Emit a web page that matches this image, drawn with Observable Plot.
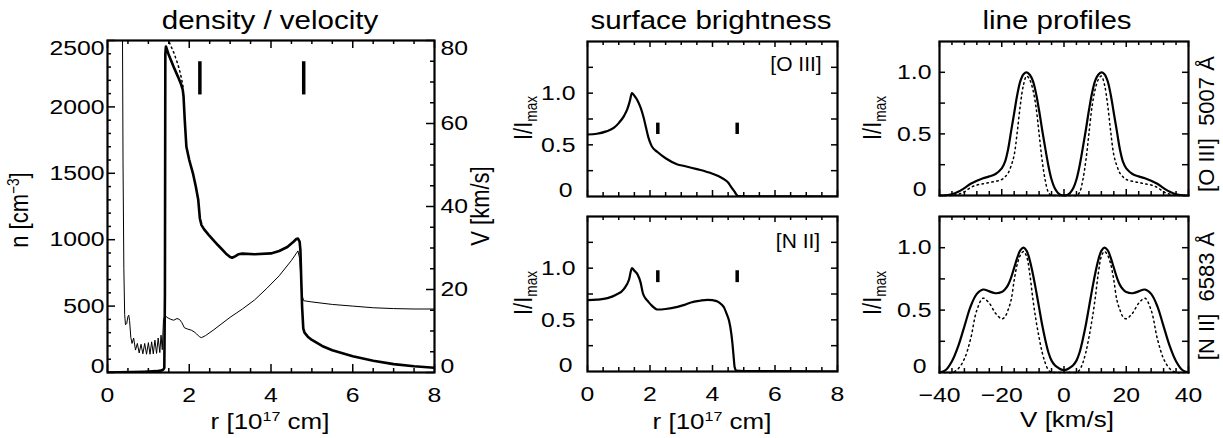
<!DOCTYPE html>
<html><head><meta charset="utf-8">
<script src="https://cdn.jsdelivr.net/npm/d3@7"></script>
<script src="https://cdn.jsdelivr.net/npm/@observablehq/plot@0.6"></script>
<style>
html,body{margin:0;padding:0;background:#fff;}
#chart{position:relative;width:1223px;height:438px;background:#fff;overflow:hidden;
  font-family:"Liberation Sans",Arial,Helvetica,sans-serif;color:#000;}
#chart svg{position:absolute;left:0;top:0;background:transparent !important;}
.lbl{position:absolute;white-space:pre;line-height:1;transform-origin:50% 50%;}
.lbl sup{font-size:0.62em;line-height:0;vertical-align:0.6em;}
.lbl sub{font-size:0.62em;line-height:0;vertical-align:-0.3em;}
</style></head><body><div id="chart"></div>
<script>
// ===================== DATA =====================
// --- density / velocity panel ---
const densR = [0, 0.3, 0.6, 0.9, 1.2, 1.3, 1.36, 1.39, 1.405, 1.415, 1.43, 1.5, 1.62, 1.72, 1.8, 1.84, 1.86, 1.89, 1.93, 2.0, 2.09, 2.16, 2.22, 2.26, 2.3, 2.36, 2.48, 2.7, 2.9, 3.0, 3.05, 3.12, 3.2, 3.3, 3.6, 4.0, 4.2, 4.4, 4.55, 4.62, 4.66, 4.7, 4.72, 4.74, 4.76, 4.79, 4.82, 4.9, 5.0, 5.25, 5.5, 6.0, 6.5, 7.0, 7.5, 8.0];
const densN = [0, 2, 4, 6, 10, 14, 20, 35, 600, 2400, 2455, 2390, 2300, 2230, 2170, 2130, 2080, 1900, 1700, 1600, 1500, 1400, 1300, 1160, 1110, 1080, 1035, 960, 895, 870, 864, 875, 890, 895, 890, 897, 915, 945, 985, 1005, 1008, 985, 920, 700, 500, 330, 300, 270, 245, 200, 168, 122, 88, 63, 47, 35];
const densDotR = [1.47, 1.52, 1.62, 1.7, 1.76, 1.81, 1.85];
const densDotN = [2520, 2480, 2410, 2340, 2280, 2215, 2150];
const velR = [0.365, 0.38, 0.40, 0.42, 0.44, 0.47, 0.50, 0.52, 0.54, 0.57, 0.60, 0.64, 0.685, 0.73, 0.775, 0.82, 0.865, 0.91, 0.955, 1.00, 1.04, 1.08, 1.12, 1.16, 1.20, 1.24, 1.28, 1.31, 1.34, 1.37, 1.41, 1.45, 1.55, 1.62, 1.70, 1.76, 1.82, 1.88, 1.95, 2.05, 2.12, 2.18, 2.25, 2.30, 2.40, 2.60, 2.80, 3.00, 3.15, 3.30, 3.60, 3.90, 4.20, 4.50, 4.66, 4.70, 4.73, 4.76, 4.80, 5.00, 5.50, 6.00, 6.50, 7.00, 7.50, 8.00];
const velV = [86, 50, 25, 14, 11.5, 11.8, 13.5, 13.8, 12.5, 8.5, 7.0, 8.3, 5.4, 7.0, 4.7, 6.8, 4.5, 7.0, 4.4, 7.2, 4.4, 7.4, 4.5, 7.8, 4.6, 8.3, 4.8, 9.0, 5.5, 12.8, 13.8, 13.3, 12.8, 12.6, 13.0, 12.8, 12.0, 10.8, 10.5, 10.2, 9.8, 9.3, 8.6, 8.4, 8.9, 10.3, 11.8, 13.3, 14.3, 15.3, 17.5, 20.3, 23.3, 27.0, 29.3, 27.5, 23, 18.5, 17.3, 17.0, 16.4, 16.0, 15.6, 15.4, 15.3, 15.3];
const frontR = [2.26, 4.80];          // ionisation-front markers
const frontNRange = [2090, 2340];

// --- surface brightness ---
const sbR_O3 = [0, 0.3, 0.6, 0.85, 1.0, 1.17, 1.28, 1.36, 1.42, 1.5, 1.6, 1.7, 1.8, 1.87, 1.95, 2.05, 2.24, 2.5, 2.88, 3.1, 3.5, 4.0, 4.2, 4.4, 4.5, 4.6, 4.7, 4.76, 4.82, 5.5, 8.0];
const sbI_O3 = [0.600, 0.607, 0.63, 0.666, 0.71, 0.78, 0.85, 0.93, 1.0, 0.975, 0.93, 0.86, 0.76, 0.67, 0.57, 0.49, 0.43, 0.37, 0.31, 0.295, 0.265, 0.22, 0.195, 0.16, 0.135, 0.09, 0.05, 0.02, 0.005, 0.002, 0.0];
const sbR_N2 = [0, 0.3, 0.64, 0.9, 1.17, 1.33, 1.42, 1.5, 1.6, 1.7, 1.77, 1.85, 1.92, 2.05, 2.24, 2.5, 2.88, 3.1, 3.31, 3.6, 3.84, 4.0, 4.16, 4.3, 4.37, 4.45, 4.53, 4.6, 4.64, 4.68, 4.71, 4.76, 5.0, 8.0];
const sbI_N2 = [0.69, 0.695, 0.71, 0.74, 0.80, 0.89, 1.0, 0.975, 0.94, 0.86, 0.76, 0.71, 0.685, 0.64, 0.60, 0.605, 0.626, 0.645, 0.668, 0.685, 0.694, 0.69, 0.678, 0.645, 0.62, 0.56, 0.49, 0.37, 0.265, 0.13, 0.04, 0.01, 0.005, 0.0];
const sbMarkR = [2.25, 4.79];
const sbMarkO3 = [0.60, 0.71];
const sbMarkN2 = [0.86, 0.975];

// --- line profiles ---
const lpVel = [-40, -38, -36, -34, -32, -30, -28, -26, -24, -22, -20, -19, -18, -17, -16, -15, -14, -13, -12, -11, -10, -9, -8, -7, -6, -5, -4, -3, -2, -1, 0, 1, 2, 3, 4, 5, 6, 7, 8, 9, 10, 11, 12, 13, 14, 15, 16, 17, 18, 19, 20, 22, 24, 26, 28, 30, 32, 34, 36, 38, 40];
const lpO3Solid = [0, 0.002, 0.01, 0.03, 0.06, 0.095, 0.12, 0.14, 0.155, 0.175, 0.22, 0.27, 0.37, 0.52, 0.67, 0.82, 0.93, 0.985, 1.0, 0.98, 0.93, 0.83, 0.69, 0.53, 0.38, 0.24, 0.13, 0.06, 0.022, 0.004, 0, 0.004, 0.022, 0.06, 0.13, 0.24, 0.38, 0.53, 0.69, 0.83, 0.93, 0.98, 1.0, 0.985, 0.93, 0.82, 0.67, 0.52, 0.37, 0.27, 0.22, 0.175, 0.155, 0.14, 0.12, 0.095, 0.06, 0.03, 0.01, 0.002, 0];
const lpO3Dot = [0, 0, 0, 0.01, 0.03, 0.065, 0.085, 0.095, 0.105, 0.115, 0.13, 0.15, 0.18, 0.24, 0.33, 0.52, 0.74, 0.90, 0.97, 0.94, 0.86, 0.72, 0.50, 0.28, 0.12, 0.025, 0, 0, 0, 0, 0, 0, 0, 0, 0, 0.025, 0.12, 0.28, 0.50, 0.72, 0.86, 0.94, 0.97, 0.90, 0.74, 0.52, 0.33, 0.24, 0.18, 0.15, 0.13, 0.115, 0.105, 0.095, 0.085, 0.065, 0.03, 0.01, 0, 0, 0];
const lpN2Solid = [0, 0.02, 0.09, 0.21, 0.37, 0.53, 0.63, 0.665, 0.65, 0.635, 0.645, 0.665, 0.70, 0.76, 0.84, 0.92, 0.98, 1.0, 0.975, 0.90, 0.79, 0.66, 0.52, 0.38, 0.26, 0.16, 0.095, 0.06, 0.04, 0.025, 0.02, 0.025, 0.04, 0.06, 0.095, 0.16, 0.26, 0.38, 0.52, 0.66, 0.79, 0.90, 0.975, 1.0, 0.98, 0.92, 0.84, 0.76, 0.70, 0.665, 0.645, 0.635, 0.65, 0.665, 0.63, 0.53, 0.37, 0.21, 0.09, 0.02, 0];
const lpN2Dot = [0, 0, 0, 0.03, 0.11, 0.27, 0.50, 0.595, 0.555, 0.475, 0.43, 0.445, 0.50, 0.58, 0.74, 0.87, 0.94, 0.97, 0.93, 0.79, 0.59, 0.42, 0.28, 0.16, 0.075, 0.02, 0, 0, 0, 0, 0, 0, 0, 0, 0, 0.02, 0.075, 0.16, 0.28, 0.42, 0.59, 0.79, 0.93, 0.97, 0.94, 0.87, 0.74, 0.58, 0.50, 0.445, 0.43, 0.475, 0.555, 0.595, 0.50, 0.27, 0.11, 0.03, 0, 0, 0];

// --- tick values ---
const rMajor = [0, 2, 4, 6, 8];
const rMinor = [0.5, 1, 1.5, 2.5, 3, 3.5, 4.5, 5, 5.5, 6.5, 7, 7.5];
const nMajor = [0, 500, 1000, 1500, 2000, 2500];
const nMinor = [100, 200, 300, 400, 600, 700, 800, 900, 1100, 1200, 1300, 1400, 1600, 1700, 1800, 1900, 2100, 2200, 2300, 2400];
const vMajor = [0, 20, 40, 60, 80];
const vMinor = [5, 10, 15, 25, 30, 35, 45, 50, 55, 65, 70, 75];
const sbYTicks = [0.25, 0.5, 0.75, 1.0, 1.25];
const lpYTicks = [0.25, 0.5, 0.75, 1.0];
const velMajor = [-40, -20, 0, 20, 40];
const velMinor = [-36, -32, -28, -24, -16, -12, -8, -4, 4, 8, 12, 16, 24, 28, 32, 36];
const yLabelsMid = [0.5, 1.0];

// ===================== DRAWING =====================
const W = 1223, H = 438;
const FONT = '"Liberation Sans", Arial, Helvetica, sans-serif';
const SX = 1.18; // horizontal glyph stretch of the original figure
const chart = document.getElementById("chart");
const zip = (xs, ys, kx, ky) => xs.map((x, i) => ({[kx]: x, [ky]: ys[i]}));
const fmtInt = d => String(d);
const fmtMid = d => d === 0 ? "0" : d.toFixed(1);
const fmtVel = d => d < 0 ? "\u2212" + (-d) : String(d);

function panel([x0, x1, y0, y1], xDomain, yDomain, marks) {
  const svg = Plot.plot({
    width: W, height: H,
    marginLeft: x0, marginRight: W - x1, marginTop: y0, marginBottom: H - y1,
    x: {domain: xDomain, label: null}, y: {domain: yDomain, label: null},
    style: {background: "transparent", fontFamily: FONT, fontSize: "21px", color: "black"},
    marks
  });
  svg.querySelectorAll('g[aria-label$="tick label"] text').forEach(t => {
    t.setAttribute("transform", (t.getAttribute("transform") || "") + ` scale(${SX},1)`);
  });
  chart.appendChild(svg);
  return svg;
}
function xTicks(vals, len, fh, sw = 1.5) {
  return [
    Plot.tickX(vals, {x: d => d, insetTop: fh - len, strokeWidth: sw}),
    Plot.tickX(vals, {x: d => d, insetBottom: fh - len, strokeWidth: sw})
  ];
}
function yTicks(vals, len, fw, side, sw = 1.5) {
  return side === "left"
    ? Plot.tickY(vals, {y: d => d, insetRight: fw - len, strokeWidth: sw})
    : Plot.tickY(vals, {y: d => d, insetLeft: fw - len, strokeWidth: sw});
}
const ax = (vals, o) => (o.anchor === "left" || o.anchor === "right")
  ? Plot.axisY(vals, {tickSize: 0, label: null, ...o})
  : Plot.axisX(vals, {tickSize: 0, label: null, ...o});

// ---- Panel 1: density (left axis) ----
const F1 = [107, 434, 40, 372];
panel(F1, [0, 8], [0, 2500], [
  Plot.line(zip(densDotR, densDotN, "r", "n"), {x: "r", y: "n", strokeWidth: 1.5, strokeDasharray: "1.5,3.5", clip: true}),
  Plot.line(zip(densR, densN, "r", "n"), {x: "r", y: "n", strokeWidth: 2.6, clip: true}),
  Plot.ruleX(frontR, {x: d => d, y1: () => frontNRange[0], y2: () => frontNRange[1], strokeWidth: 3.5}),
  ...xTicks(rMajor, 8, 332), ...xTicks(rMinor, 4, 332),
  yTicks(nMajor, 8, 327, "left"), yTicks(nMinor, 4, 327, "left"),
  ax(rMajor, {anchor: "bottom", tickPadding: 15, tickFormat: fmtInt}),
  ax([500, 1000, 1500, 2000], {anchor: "left", tickPadding: 3, tickFormat: fmtInt}),
  ax([0], {anchor: "left", tickPadding: 3, lineAnchor: "bottom", tickFormat: fmtInt}),
  ax([2500], {anchor: "left", tickPadding: 3, lineAnchor: "top", tickFormat: fmtInt}),
  Plot.frame({strokeWidth: 2.2})
]);
// ---- Panel 1 overlay: velocity (right axis) ----
panel(F1, [0, 8], [0, 80], [
  Plot.line(zip(velR, velV, "r", "v"), {x: "r", y: "v", strokeWidth: 1, clip: true}),
  yTicks(vMajor, 8, 327, "right"), yTicks(vMinor, 4, 327, "right"),
  ax([20, 40, 60], {anchor: "right", tickPadding: 6, tickFormat: fmtInt}),
  ax([0], {anchor: "right", tickPadding: 6, lineAnchor: "bottom", tickFormat: fmtInt}),
  ax([80], {anchor: "right", tickPadding: 6, lineAnchor: "top", tickFormat: fmtInt}),
  ax([], {anchor: "bottom"})
]);

// ---- Surface brightness panels ----
function sbPanel(frame, R, I, markI, showX) {
  const fh = frame[3] - frame[2], fw = frame[1] - frame[0];
  return panel(frame, [0, 8], [0, 1.5], [
    Plot.line(zip(R, I, "r", "i"), {x: "r", y: "i", strokeWidth: 2.2, curve: "monotone-x", clip: true}),
    Plot.ruleX(sbMarkR, {x: d => d, y1: () => markI[0], y2: () => markI[1], strokeWidth: 3.5}),
    ...xTicks(rMajor, 6, fh), ...xTicks(rMinor, 4, fh),
    yTicks(sbYTicks, 6, fw, "left"), yTicks(sbYTicks, 6, fw, "right"),
    ax(showX ? rMajor : [], {anchor: "bottom", tickPadding: 15, tickFormat: fmtInt}),
    ax(yLabelsMid, {anchor: "left", tickPadding: 12, tickFormat: fmtMid}),
    ax([0], {anchor: "left", tickPadding: 15, lineAnchor: "bottom", tickFormat: fmtMid}),
    Plot.frame({strokeWidth: 2.2})
  ]);
}
sbPanel([587, 837, 41, 196], sbR_O3, sbI_O3, sbMarkO3, false);
sbPanel([587, 837, 216, 371], sbR_N2, sbI_N2, sbMarkN2, true);

// ---- Line profile panels ----
function lpPanel(frame, solid, dotted, showX) {
  const fh = frame[3] - frame[2], fw = frame[1] - frame[0];
  return panel(frame, [-40, 40], [0, 1.25], [
    Plot.line(zip(lpVel, dotted, "v", "i"), {x: "v", y: "i", strokeWidth: 1.5, strokeDasharray: "1.5,3.5", curve: "catmull-rom"}),
    Plot.line(zip(lpVel, solid, "v", "i"), {x: "v", y: "i", strokeWidth: 2.2, curve: "catmull-rom"}),
    ...xTicks(velMajor, 6, fh), ...xTicks(velMinor, 4, fh),
    yTicks(lpYTicks, 6, fw, "left"), yTicks(lpYTicks, 6, fw, "right"),
    ax(showX ? velMajor : [], {anchor: "bottom", tickPadding: 15, tickFormat: fmtVel}),
    ax(yLabelsMid, {anchor: "left", tickPadding: 8, tickFormat: fmtMid}),
    ax([0], {anchor: "left", tickPadding: 13, lineAnchor: "bottom", tickFormat: fmtMid}),
    Plot.frame({strokeWidth: 2.2})
  ]);
}
lpPanel([939, 1188, 41, 195], lpO3Solid, lpO3Dot, false);
lpPanel([939, 1188, 216, 372], lpN2Solid, lpN2Dot, true);

// ---- Text labels (titles, axis titles, line names) ----
function label(html, cx, cy, size, rotate = false, sx = SX) {
  const d = document.createElement("div");
  d.className = "lbl";
  d.innerHTML = html;
  d.style.left = cx + "px";
  d.style.top = cy + "px";
  d.style.fontSize = size + "px";
  d.style.transform = rotate
    ? `translate(-50%,-50%) rotate(-90deg) scale(1,${sx})`
    : `translate(-50%,-50%) scale(${sx},1)`;
  chart.appendChild(d);
}
label("density / velocity", 270, 20, 25);
label("surface brightness", 711, 20, 25);
label("line profiles", 1057, 20, 25);
label("r [10<sup>17</sup> cm]", 270, 422, 22);
label("r [10<sup>17</sup> cm]", 712, 422, 22);
label("V [km/s]", 1067, 420, 22);
label("n [cm<sup>\u22123</sup>]", 20, 210, 22, true);
label("V [km/s]", 481, 206, 22, true);
label("I/I<sub>max</sub>", 524, 118, 22, true);
label("I/I<sub>max</sub>", 524, 293, 22, true);
label("I/I<sub>max</sub>", 873, 118, 22, true);
label("I/I<sub>max</sub>", 873, 293, 22, true);
label("[O III]", 796, 63, 21, false, 1);
label("[N II]", 798, 240, 21, false, 1);
label("[O III]  5007 \u00C5", 1207, 124, 22, true, 1);
label("[N II]  6583 \u00C5", 1207, 296, 22, true, 1);
</script></body></html>
